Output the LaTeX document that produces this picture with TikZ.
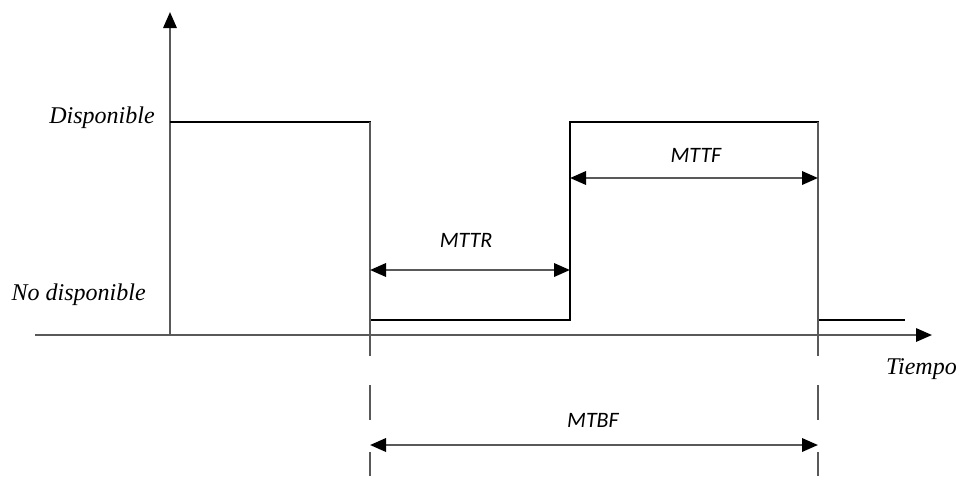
\documentclass[tikz,border=0pt]{standalone}
\usepackage{fontspec}
\setmainfont{Liberation Serif}
\newfontfamily\lblfont{Carlito}
\usetikzlibrary{arrows.meta}
\begin{document}
\begin{tikzpicture}[x=0.75pt,y=-0.75pt,
  axis/.style={draw=black!65,line width=1.6pt},
  sig/.style={draw=black,line width=1.1pt},
  guide/.style={draw=black!65,line width=1.4pt},
  tip/.tip={Triangle[length=12pt,width=10pt,color=black]},
  dim/.style={draw=black!65,line width=1.8pt,tip-tip},
  head/.style={-tip},
  serif/.style={font=\fontsize{18}{20}\selectfont\itshape,inner sep=0pt},
  lbl/.style={font=\lblfont\fontsize{16.5}{18}\selectfont\itshape,inner sep=0pt}]
\useasboundingbox (0,0) rectangle (959,476);
% coordinates
\coordinate (o) at (170,335);
\coordinate (ytop) at (170,12);
\coordinate (xl) at (35,335);
\coordinate (xr) at (932,335);
\coordinate (h0) at (170,122);
\coordinate (h1) at (370,122);
\coordinate (l1) at (370,320);
\coordinate (l2) at (570,320);
\coordinate (h2) at (570,122);
\coordinate (h3) at (818,122);
\coordinate (l3) at (818,320);
\coordinate (l4) at (905,320);
\coordinate (g1) at (370,356);
\coordinate (g2) at (818,356);
\coordinate (a1) at (370,385);
\coordinate (a2) at (370,420);
\coordinate (a3) at (370,452);
\coordinate (a4) at (370,476);
\coordinate (b1) at (818,385);
\coordinate (b2) at (818,420);
\coordinate (b3) at (818,452);
\coordinate (b4) at (818,476);
\coordinate (r1) at (370,270);
\coordinate (r2) at (570,270);
\coordinate (f1) at (570,178);
\coordinate (f2) at (818,178);
\coordinate (m1) at (370,445);
\coordinate (m2) at (818,445);
% axes
\draw[axis,head] (o) -- (ytop);
\draw[axis,head] (xl) -- (xr);
% signal
\draw[sig] (h0) -- (h1) -- (l1) -- (l2) -- (h2) -- (h3) -- (l3) -- (l4);
\draw[guide] (h1) -- (g1);
\draw[guide] (h3) -- (g2);
\draw[guide] (a1) -- (a2);
\draw[guide] (a3) -- (a4);
\draw[guide] (b1) -- (b2);
\draw[guide] (b3) -- (b4);
% dimensions
\draw[dim] (r1) -- (r2);
\draw[dim] (f1) -- (f2);
\draw[dim] (m1) -- (m2);
% labels
\node[serif,anchor=east] (disp) at (155,118) {Disponible};
\node[serif,anchor=east] (nodisp) at (146,295) {No disponible};
\node[serif,anchor=east] (tiempo) at (957,369) {Tiempo};
\node[lbl] (mttr) at (466,240) {MTTR};
\node[lbl] (mttf) at (696,155) {MTTF};
\node[lbl] (mtbf) at (593,420) {MTBF};
\end{tikzpicture}
\end{document}
